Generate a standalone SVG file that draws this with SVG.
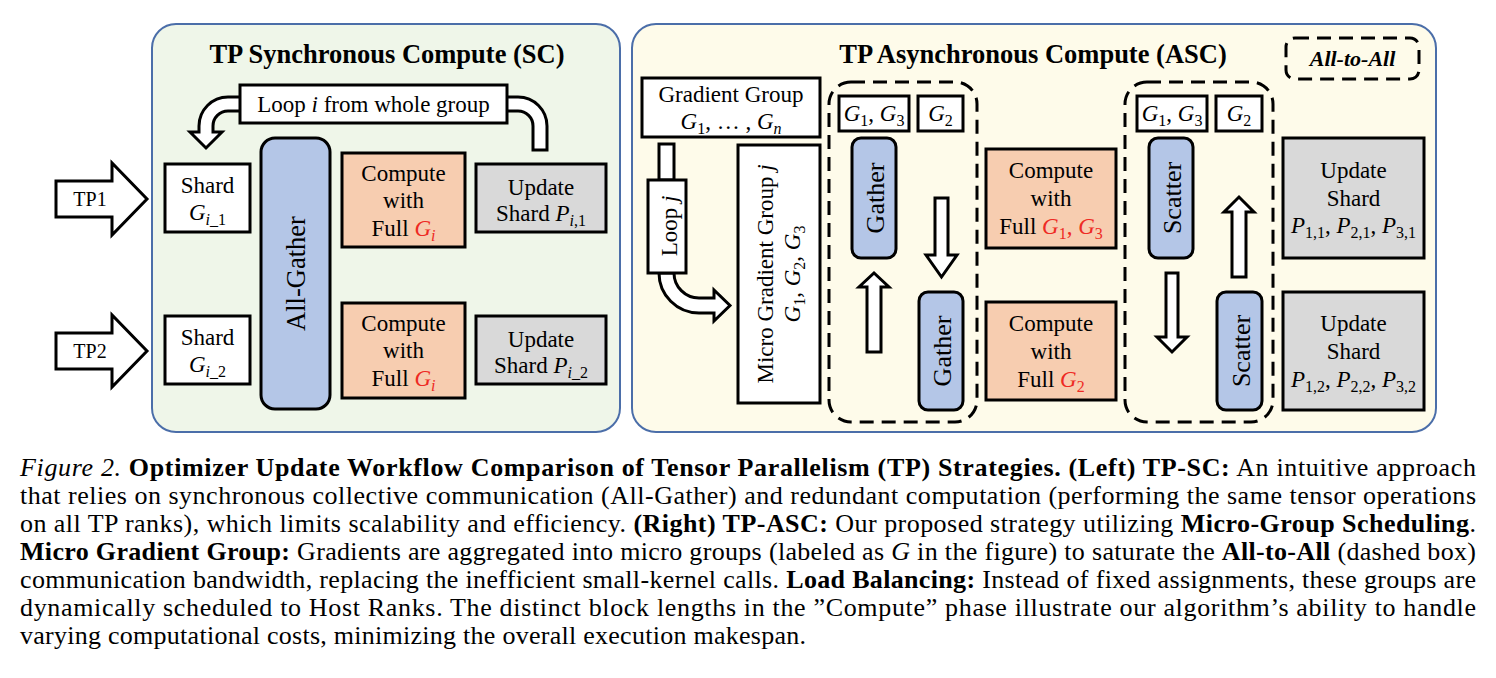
<svg xmlns="http://www.w3.org/2000/svg" width="1496" height="678" viewBox="0 0 1496 678">
<style>
text{font-family:"Liberation Serif","Times New Roman",serif;fill:#000}
.t{font-size:23px}
.title{font-size:26.5px;font-weight:bold}
.lbl{font-size:26px}
.m{font-style:italic}
.s{font-size:16px}
.red{fill:#EE2A24}
.bx{stroke:#000;stroke-width:3}
.white{fill:#fff}
.peach{fill:#F7CDB0}
.grey{fill:#D9D9D9}
.blue{fill:#B4C6E7}
.dash{fill:none;stroke:#000;stroke-width:3;stroke-dasharray:14 8}
.arr{fill:#fff;stroke:#000;stroke-width:3;stroke-linejoin:miter}
.cap{font-size:26px}
.b{font-weight:bold}
.i{font-style:italic}
.panel{stroke:#4B6EA9;stroke-width:2}
</style>

<g id="panel-sc">
  <rect class="panel" x="152" y="24" width="468" height="408" rx="24" fill="#EFF6E9"/>
  <text class="title" x="387" y="63" text-anchor="middle">TP Synchronous Compute (SC)</text>
</g>
<g id="panel-asc">
  <rect class="panel" x="632" y="24" width="804" height="408" rx="24" fill="#FEFBEA"/>
  <text class="title" x="1033" y="63" text-anchor="middle">TP Asynchronous Compute (ASC)</text>
</g>

<g id="connectors">
  <path class="arr" d="M56 181 H112 V163 L147 199 L112 235 V217 H56 Z"/>
  <path class="arr" d="M56 333 H112 V315 L147 351 L112 387 V369 H56 Z"/>
  <path class="arr" d="M533 150 L547 150 L547 126 A29 29 0 0 0 518 97 L228 97 A29 29 0 0 0 199 126 L199 132 L190 132 L206 148 L222 132 L213 132 L213 126 A15 15 0 0 1 228 111 L518 111 A15 15 0 0 1 533 126 Z"/>
  <rect class="arr" x="659" y="144" width="15" height="36"/>
  <path class="arr" d="M659 273 A40 40 0 0 0 699 313 L714 313 L714 321 L730 305.5 L714 290 L714 298 L699 298 A25 25 0 0 1 674 273 Z"/>
  <path class="arr" d="M935 198 H948 V255 H957 L941.5 277 L926 255 H935 Z"/>
  <path class="arr" d="M867 352 V287 H859 L874 273 L889 287 H881 V352 Z"/>
  <path class="arr" d="M1166 273 H1178 V337 H1187 L1172 352 L1157 337 H1166 Z"/>
  <path class="arr" d="M1232 277 V212 H1224 L1239 197 L1254 212 H1246 V277 Z"/>
</g>

<g id="tp1"><text class="t" x="90" y="206" text-anchor="middle" style="font-size:20px">TP1</text></g>
<g id="tp2"><text class="t" x="90" y="358" text-anchor="middle" style="font-size:20px">TP2</text></g>

<g id="loop-i">
  <rect class="bx white" x="240" y="85" width="267" height="38"/>
  <text class="t" x="373.5" y="112" text-anchor="middle">Loop <tspan class="m">i</tspan> from whole group</text>
</g>

<g id="shard-1">
  <rect class="bx white" x="165" y="164" width="85" height="68"/>
  <text class="t" x="207.5" y="193" text-anchor="middle">Shard</text>
  <text class="t" x="207.5" y="220" text-anchor="middle"><tspan class="m">G</tspan><tspan class="s" dy="5"><tspan class="m">i</tspan>_1</tspan></text>
</g>
<g id="shard-2">
  <rect class="bx white" x="165" y="316" width="85" height="68"/>
  <text class="t" x="207.5" y="345" text-anchor="middle">Shard</text>
  <text class="t" x="207.5" y="372" text-anchor="middle"><tspan class="m">G</tspan><tspan class="s" dy="5"><tspan class="m">i</tspan>_2</tspan></text>
</g>

<g id="all-gather">
  <rect class="bx blue" x="261" y="138" width="69" height="271" rx="14"/>
  <text class="lbl" x="305" y="273.5" text-anchor="middle" transform="rotate(-90 305 273.5)" style="font-size:26.5px">All-Gather</text>
</g>

<g id="compute-l1">
  <rect class="bx peach" x="342" y="153" width="123" height="94"/>
  <text class="t" x="403.5" y="181" text-anchor="middle">Compute</text>
  <text class="t" x="403.5" y="208" text-anchor="middle">with</text>
  <text class="t" x="403.5" y="236" text-anchor="middle">Full <tspan class="m red">G</tspan><tspan class="s m red" dy="5">i</tspan></text>
</g>
<g id="compute-l2">
  <rect class="bx peach" x="342" y="303" width="123" height="95"/>
  <text class="t" x="403.5" y="331" text-anchor="middle">Compute</text>
  <text class="t" x="403.5" y="358" text-anchor="middle">with</text>
  <text class="t" x="403.5" y="386" text-anchor="middle">Full <tspan class="m red">G</tspan><tspan class="s m red" dy="5">i</tspan></text>
</g>

<g id="update-l1">
  <rect class="bx grey" x="476" y="164" width="130" height="68"/>
  <text class="t" x="541" y="195" text-anchor="middle">Update</text>
  <text class="t" x="541" y="221" text-anchor="middle">Shard <tspan class="m">P</tspan><tspan class="s" dy="5"><tspan class="m">i</tspan>,1</tspan></text>
</g>
<g id="update-l2">
  <rect class="bx grey" x="476" y="316" width="130" height="68"/>
  <text class="t" x="541" y="347" text-anchor="middle">Update</text>
  <text class="t" x="541" y="373" text-anchor="middle">Shard <tspan class="m">P</tspan><tspan class="s" dy="5"><tspan class="m">i</tspan>_2</tspan></text>
</g>

<g id="all-to-all-legend">
  <rect class="dash" x="1286" y="38" width="133" height="41" rx="9"/>
  <text x="1352.5" y="66" text-anchor="middle" style="font-size:22px;font-weight:bold;font-style:italic">All-to-All</text>
</g>

<g id="gradient-group">
  <rect class="bx white" x="642" y="78" width="178" height="59"/>
  <text class="t" x="731" y="102" text-anchor="middle">Gradient Group</text>
  <text class="t" x="731" y="129" text-anchor="middle"><tspan class="m">G</tspan><tspan class="s" dy="5">1</tspan><tspan dy="-5">, … , </tspan><tspan class="m">G</tspan><tspan class="s m" dy="5">n</tspan></text>
</g>

<g id="loop-j">
  <rect class="bx white" x="648" y="180" width="38" height="93"/>
  <text class="t" x="677" y="226" text-anchor="middle" transform="rotate(-90 677 226)">Loop <tspan class="m">j</tspan></text>
</g>

<g id="micro-group">
  <rect class="bx white" x="738" y="145" width="82" height="258"/>
  <text class="t" x="773" y="274" text-anchor="middle" transform="rotate(-90 773 274)">Micro Gradient Group <tspan class="m">j</tspan></text>
  <text class="t" x="800" y="274" text-anchor="middle" transform="rotate(-90 800 274)"><tspan class="m">G</tspan><tspan class="s" dy="5">1</tspan><tspan dy="-5">, </tspan><tspan class="m">G</tspan><tspan class="s" dy="5">2</tspan><tspan dy="-5">, </tspan><tspan class="m">G</tspan><tspan class="s" dy="5">3</tspan></text>
</g>

<g id="gather-stage">
  <rect class="dash" x="829" y="82" width="148" height="340" rx="22"/>
</g>
<g id="gather-g13">
  <rect class="bx white" x="839" y="96" width="70" height="35"/>
  <text class="t" x="874" y="121" text-anchor="middle"><tspan class="m">G</tspan><tspan class="s" dy="5">1</tspan><tspan dy="-5">, </tspan><tspan class="m">G</tspan><tspan class="s" dy="5">3</tspan></text>
</g>
<g id="gather-g2">
  <rect class="bx white" x="918" y="96" width="45" height="35"/>
  <text class="t" x="940.5" y="121" text-anchor="middle"><tspan class="m">G</tspan><tspan class="s" dy="5">2</tspan></text>
</g>
<g id="gather-1">
  <rect class="bx blue" x="852" y="138" width="44" height="120" rx="9"/>
  <text class="lbl" x="884" y="198" text-anchor="middle" transform="rotate(-90 884 198)">Gather</text>
</g>
<g id="gather-2">
  <rect class="bx blue" x="919" y="292" width="44" height="118" rx="9"/>
  <text class="lbl" x="951" y="351" text-anchor="middle" transform="rotate(-90 951 351)">Gather</text>
</g>

<g id="compute-r1">
  <rect class="bx peach" x="986" y="149" width="130" height="99"/>
  <text class="t" x="1051" y="178" text-anchor="middle">Compute</text>
  <text class="t" x="1051" y="206" text-anchor="middle">with</text>
  <text class="t" x="1051" y="234" text-anchor="middle">Full <tspan class="m red">G</tspan><tspan class="s red" dy="5">1</tspan><tspan class="red" dy="-5">, </tspan><tspan class="m red">G</tspan><tspan class="s red" dy="5">3</tspan></text>
</g>
<g id="compute-r2">
  <rect class="bx peach" x="986" y="302" width="130" height="98"/>
  <text class="t" x="1051" y="331" text-anchor="middle">Compute</text>
  <text class="t" x="1051" y="359" text-anchor="middle">with</text>
  <text class="t" x="1051" y="387" text-anchor="middle">Full <tspan class="m red">G</tspan><tspan class="s red" dy="5">2</tspan></text>
</g>

<g id="scatter-stage">
  <rect class="dash" x="1125" y="82" width="148" height="340" rx="22"/>
</g>
<g id="scatter-g13">
  <rect class="bx white" x="1137" y="96" width="70" height="35"/>
  <text class="t" x="1172" y="121" text-anchor="middle"><tspan class="m">G</tspan><tspan class="s" dy="5">1</tspan><tspan dy="-5">, </tspan><tspan class="m">G</tspan><tspan class="s" dy="5">3</tspan></text>
</g>
<g id="scatter-g2">
  <rect class="bx white" x="1216" y="96" width="46" height="35"/>
  <text class="t" x="1239" y="121" text-anchor="middle"><tspan class="m">G</tspan><tspan class="s" dy="5">2</tspan></text>
</g>
<g id="scatter-1">
  <rect class="bx blue" x="1149" y="138" width="44" height="120" rx="9"/>
  <text class="lbl" x="1181" y="198" text-anchor="middle" transform="rotate(-90 1181 198)">Scatter</text>
</g>
<g id="scatter-2">
  <rect class="bx blue" x="1217" y="292" width="45" height="118" rx="9"/>
  <text class="lbl" x="1249.5" y="351" text-anchor="middle" transform="rotate(-90 1249.5 351)">Scatter</text>
</g>

<g id="update-r1">
  <rect class="bx grey" x="1283" y="138" width="141" height="120"/>
  <text class="t" x="1353.5" y="178" text-anchor="middle">Update</text>
  <text class="t" x="1353.5" y="206" text-anchor="middle">Shard</text>
  <text class="t" x="1353.5" y="233" text-anchor="middle"><tspan class="m">P</tspan><tspan class="s" dy="5">1,1</tspan><tspan dy="-5">, </tspan><tspan class="m">P</tspan><tspan class="s" dy="5">2,1</tspan><tspan dy="-5">, </tspan><tspan class="m">P</tspan><tspan class="s" dy="5">3,1</tspan></text>
</g>
<g id="update-r2">
  <rect class="bx grey" x="1283" y="292" width="141" height="118"/>
  <text class="t" x="1353.5" y="331" text-anchor="middle">Update</text>
  <text class="t" x="1353.5" y="359" text-anchor="middle">Shard</text>
  <text class="t" x="1353.5" y="387" text-anchor="middle"><tspan class="m">P</tspan><tspan class="s" dy="5">1,2</tspan><tspan dy="-5">, </tspan><tspan class="m">P</tspan><tspan class="s" dy="5">2,2</tspan><tspan dy="-5">, </tspan><tspan class="m">P</tspan><tspan class="s" dy="5">3,2</tspan></text>
</g>

<g id="caption">
  <text class="cap" x="20" y="476" textLength="1456" lengthAdjust="spacing"><tspan class="i">Figure 2.</tspan> <tspan class="b">Optimizer Update Workflow Comparison of Tensor Parallelism (TP) Strategies. (Left) TP-SC:</tspan> An intuitive approach</text>
  <text class="cap" x="20" y="504" textLength="1456" lengthAdjust="spacing">that relies on synchronous collective communication (All-Gather) and redundant computation (performing the same tensor operations</text>
  <text class="cap" x="20" y="532" textLength="1456" lengthAdjust="spacing">on all TP ranks), which limits scalability and efficiency. <tspan class="b">(Right) TP-ASC:</tspan> Our proposed strategy utilizing <tspan class="b">Micro-Group Scheduling</tspan>.</text>
  <text class="cap" x="20" y="560" textLength="1456" lengthAdjust="spacing"><tspan class="b">Micro Gradient Group:</tspan> Gradients are aggregated into micro groups (labeled as <tspan class="i">G</tspan> in the figure) to saturate the <tspan class="b">All-to-All</tspan> (dashed box)</text>
  <text class="cap" x="20" y="588" textLength="1456" lengthAdjust="spacing">communication bandwidth, replacing the inefficient small-kernel calls. <tspan class="b">Load Balancing:</tspan> Instead of fixed assignments, these groups are</text>
  <text class="cap" x="20" y="616" textLength="1456" lengthAdjust="spacing">dynamically scheduled to Host Ranks. The distinct block lengths in the ”Compute” phase illustrate our algorithm’s ability to handle</text>
  <text class="cap" x="20" y="644" textLength="786" lengthAdjust="spacing">varying computational costs, minimizing the overall execution makespan.</text>
</g>
</svg>
